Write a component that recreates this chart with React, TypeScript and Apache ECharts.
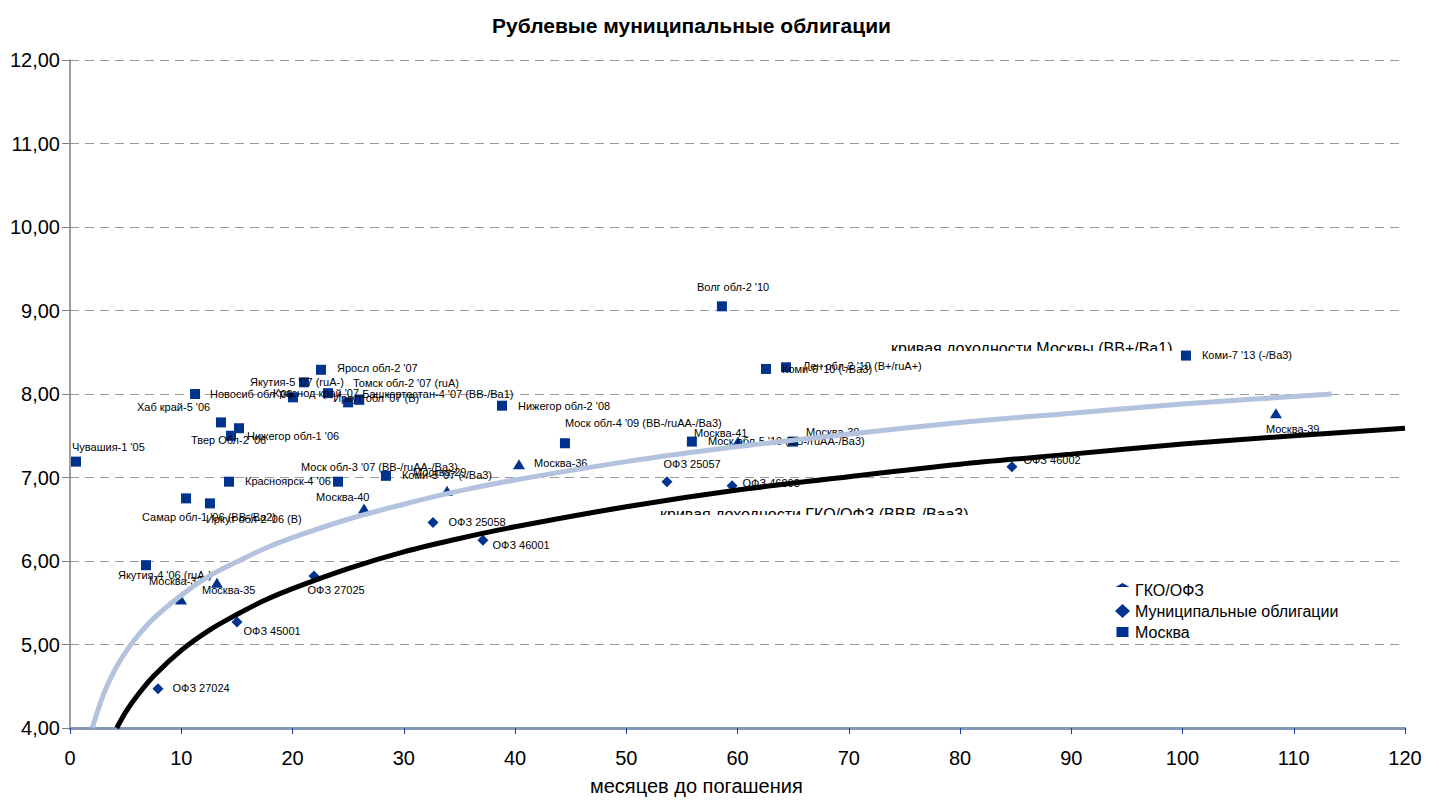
import React, { useEffect, useRef } from "react";
import * as echarts from "echarts";

const FONT = "'Liberation Sans', Arial, sans-serif";
const MARK = "#00338e";

// Regional bonds (squares)
const regionNames = [
  "Чувашия-1 '05", "Новосиб обл '06", "Хаб край-5 '06", "Твер Обл-2 '06", "Нижегор обл-1 '06",
  "Красноярск-4 '06", "Самар обл-1 '06 (BB-/Ba2)", "Иркут обл-2 '06 (B)", "Якутия-4 '06 (ruA-)",
  "Якутия-5 '07 (ruA-)", "Яросл обл-2 '07", "Краснод край '07", "Томск обл-2 '07 (ruA)",
  "Иркут обл '07 (B)", "Башкортостан-4 '07 (BB-/Ba1)", "Нижегор обл-2 '08",
  "Моск обл-4 '09 (BB-/ruAA-/Ba3)", "Моск обл-3 '07 (BB-/ruAA-/Ba3)", "Коми-5 '07 (-/Ba3)",
  "Моск обл-5 '10 (BB-/ruAA-/Ba3)", "Москва-38", "Волг обл-2 '10", "Коми-6 '10 (-/Ba3)",
  "Лен обл-2 '10 (B+/ruA+)", "Коми-7 '13 (-/Ba3)",
];
const regionMonths = [
  0.54, 11.24, 13.57, 14.47, 15.19, 14.29, 10.43, 12.58, 6.83, 21.03, 22.56, 20.04, 23.19,
  25.0, 26.0, 38.83, 44.49, 24.09, 28.4, 55.9, 64.99, 58.6, 62.56, 64.36, 100.31,
];
const regionYields = [
  7.19, 8.0, 7.66, 7.5, 7.59, 6.95, 6.75, 6.69, 5.95, 8.14, 8.29, 7.96, 8.01, 7.9, 7.93,
  7.86, 7.41, 6.95, 7.02, 7.43, 7.43, 9.05, 8.3, 8.32, 8.46,
];

// Moscow bonds (triangles)
const moscowNames = ["Москва-37", "Москва-35", "Москва-40", "Москва-29", "Москва-36", "Москва-41", "Москва-39"];
const moscowMonths = [9.98, 13.21, 26.43, 33.89, 40.36, 60.04, 108.4];
const moscowYields = [5.54, 5.74, 6.63, 6.84, 7.16, 7.43, 7.77];

// OFZ (diamonds)
const ofzNames = ["ОФЗ 27024", "ОФЗ 45001", "ОФЗ 27025", "ОФЗ 25058", "ОФЗ 46001", "ОФЗ 25057", "ОФЗ 46003", "ОФЗ 46002"];
const ofzMonths = [7.91, 15.01, 21.93, 32.63, 37.12, 53.66, 59.51, 84.67];
const ofzYields = [4.47, 5.27, 5.82, 6.46, 6.25, 6.95, 6.9, 7.13];

// Yield curves
const moscowCurveMonths = [2, 3, 4, 5, 6, 7.5, 10, 12.5, 15, 17.5, 20, 25, 30, 35, 40, 50, 60, 70, 80, 90, 100, 113.4];
const moscowCurveYields = [4.0, 4.4, 4.69, 4.91, 5.09, 5.31, 5.59, 5.82, 5.99, 6.15, 6.28, 6.5, 6.68, 6.84, 6.97, 7.19, 7.37, 7.52, 7.66, 7.77, 7.88, 8.0];
const gkoCurveMonths = [4.2, 5, 6, 7.5, 10, 12.5, 15, 17.5, 20, 25, 30, 35, 40, 50, 60, 70, 80, 90, 100, 110, 120];
const gkoCurveYields = [4.0, 4.19, 4.38, 4.62, 4.93, 5.17, 5.36, 5.53, 5.67, 5.91, 6.11, 6.27, 6.41, 6.65, 6.85, 7.01, 7.16, 7.28, 7.4, 7.5, 7.59];

const legendNames = ["ГКО/ОФЗ", "Муниципальные облигации", "Москва"];

// label placement offsets (pixels), kept apart from values
const regionLabelOffsets = [
  [-9, -15], [10, 0], [-89, -15], [-45, 4], [3, 8], [11, -1], [-49, 19], [-9, 16], [-33, 10],
  [-59, 0], [11, -2], [-25, -4], [20, -10], [-20, -4], [-2, -6], [11, 0], [-5, -20], [-42, -15],
  [11, -1], [11, -1], [8, -10], [-30, -19], [11, 0], [12, -1], [11, -1],
];
const moscowLabelOffsets = [[-38, -18], [-21, 7], [-54, -11], [-40, -19], [9, -1], [-50, -9], [-16, 16]];
const ofzLabelOffsets = [[9, -1], [1, 9], [-12, 14], [10, -1], [4, 5], [-9, -18], [5, -3], [6, -7]];

function points(names: string[], xs: number[], ys: number[], offs: number[][]) {
  return names.map((n, i) => ({
    name: n,
    value: [xs[i], ys[i]],
    label: { offset: offs[i] },
  }));
}

export default function App() {
  const ref = useRef<HTMLDivElement>(null);
  useEffect(() => {
    if (!ref.current) return;
    const chart = echarts.init(ref.current, null, { renderer: "svg" });
    const label = {
      show: true,
      position: "right",
      distance: 0,
      formatter: "{b}",
      fontSize: 11,
      fontFamily: FONT,
      color: "#000",
    };
    const markStyle = { color: MARK, opacity: 1 };
    chart.setOption({
      animation: false,
      backgroundColor: "#fff",
      textStyle: { fontFamily: FONT },
      title: {
        text: "Рублевые муниципальные облигации",
        left: 487,
        top: 10,
        textStyle: { fontSize: 21, fontWeight: "bold", color: "#000", fontFamily: FONT },
      },
      grid: { left: 70, right: 34, top: 60, bottom: 72 },
      legend: {
        orient: "vertical",
        left: 1110,
        top: 577,
        itemWidth: 15,
        itemHeight: 14,
        itemGap: 5,
        textStyle: { fontSize: 16, color: "#000", fontFamily: FONT },
        itemStyle: { opacity: 1 },
        data: [
          { name: legendNames[0], icon: "path://M0,4 L7,0 L14,4 Z M0,14 L0.01,14 L0,14.01 Z" },
          { name: legendNames[1], icon: "diamond" },
          {
            name: legendNames[2],
            icon: "path://M1.5,2 L13.5,2 L13.5,12 L1.5,12 Z M0,0 L0.01,0 L0,0.01 Z M15,14 L14.99,14 L15,13.99 Z",
          },
        ],
      },
      xAxis: {
        type: "value",
        min: 0,
        max: 120,
        interval: 10,
        axisLine: { show: true, onZero: false, lineStyle: { color: "#8497b9", width: 3 } },
        axisTick: { show: true, length: 6, lineStyle: { color: "#1f3a93", width: 1 } },
        axisLabel: { fontSize: 20, color: "#000", margin: 20, fontFamily: FONT },
        splitLine: { show: false },
      },
      yAxis: {
        type: "value",
        min: 4,
        max: 12,
        interval: 1,
        axisLine: { show: true, onZero: false, lineStyle: { color: "#7f7f7f", width: 1.5 } },
        axisTick: { show: true, length: 8, lineStyle: { color: "#7f7f7f" } },
        axisLabel: {
          fontSize: 20,
          color: "#000",
          margin: 10,
          fontFamily: FONT,
          formatter: (v: number) => v.toFixed(2).replace(".", ","),
        },
        splitLine: { show: true, lineStyle: { type: [9, 6], color: "#9a9a9a", width: 1 } },
      },
      graphic: [
        {
          type: "text",
          left: 590,
          top: 776,
          style: { text: "месяцев до погашения", fontSize: 20, fill: "#000", font: `20.5px ${FONT}` },
        },
        {
          type: "text",
          x: 891,
          y: 348,
          style: {
            text: "кривая доходности Москвы (BB+/Ba1)",
            font: `16px ${FONT}`,
            fill: "#000",
            verticalAlign: "middle",
          },
          z: 1,
        },
        { type: "rect", shape: { x: 880, y: 351, width: 305, height: 8 }, style: { fill: "#fff" }, z: 1, z2: 10 },
        {
          type: "text",
          x: 660,
          y: 514,
          style: {
            text: "кривая доходности ГКО/ОФЗ (BBB-/Baa3)",
            font: `16px ${FONT}`,
            fill: "#000",
            verticalAlign: "middle",
          },
          z: 1,
        },
        { type: "rect", shape: { x: 650, y: 515, width: 335, height: 10 }, style: { fill: "#fff" }, z: 1, z2: 10 },
      ],
      series: [
        {
          name: legendNames[0],
          type: "scatter",
          symbol: "triangle",
          symbolSize: [12, 10],
          itemStyle: markStyle,
          label,
          z: 2,
          data: points(moscowNames, moscowMonths, moscowYields, moscowLabelOffsets),
        },
        {
          name: legendNames[1],
          type: "scatter",
          symbol: "diamond",
          symbolSize: 11,
          itemStyle: markStyle,
          label,
          z: 2,
          data: points(ofzNames, ofzMonths, ofzYields, ofzLabelOffsets),
        },
        {
          name: legendNames[2],
          type: "scatter",
          symbol: "rect",
          symbolSize: 10,
          itemStyle: markStyle,
          label,
          z: 2,
          data: points(regionNames, regionMonths, regionYields, regionLabelOffsets),
        },
        {
          name: "кривая Москвы",
          type: "line",
          showSymbol: false,
          smooth: 0.3,
          z: 3,
          lineStyle: { color: "#b3c2dd", width: 5 },
          data: moscowCurveMonths.map((m, i) => [m, moscowCurveYields[i]]),
        },
        {
          name: "кривая ГКО/ОФЗ",
          type: "line",
          showSymbol: false,
          smooth: 0.3,
          z: 3,
          lineStyle: { color: "#000", width: 5 },
          data: gkoCurveMonths.map((m, i) => [m, gkoCurveYields[i]]),
        },
      ],
    });
    return () => chart.dispose();
  }, []);
  return (
    <div
      ref={ref}
      style={{ position: "absolute", left: 0, top: 0, width: 1439, height: 800, background: "#fff" }}
    />
  );
}
